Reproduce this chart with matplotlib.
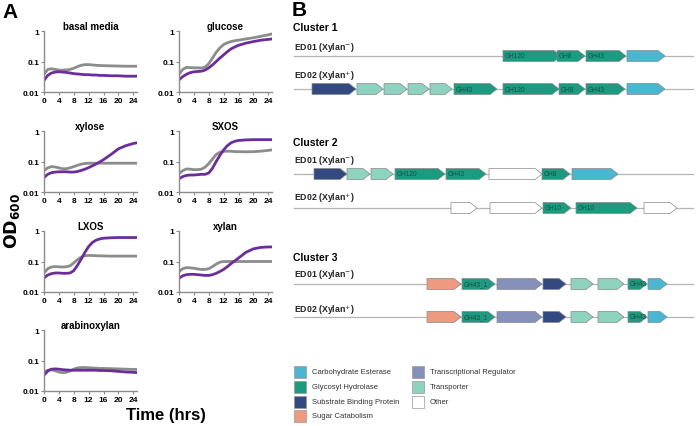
import matplotlib.pyplot as plt
from matplotlib.patches import Polygon, Rectangle

plt.rcParams['font.family'] = ['Liberation Sans', 'DejaVu Sans']

# ---- panel A: growth curves (OD600, log scale) ----
hours = [0, 1, 2, 3, 4, 5, 6, 7, 8, 9, 10, 11, 12, 13, 14, 15, 16, 18, 20, 22, 24, 25]

media = ['basal media', 'glucose', 'xylose', 'SXOS', 'LXOS', 'xylan', 'arabinoxylan']

ed01_od = {
    'basal media': [0.038, 0.055, 0.058, 0.055, 0.052, 0.052, 0.053, 0.055, 0.060, 0.068, 0.075, 0.079,
                    0.079, 0.077, 0.075, 0.074, 0.073, 0.072, 0.071, 0.070, 0.070, 0.070],
    'glucose': [0.038, 0.055, 0.064, 0.063, 0.062, 0.062, 0.061, 0.065, 0.085, 0.13, 0.2, 0.28,
                0.36, 0.41, 0.45, 0.48, 0.5, 0.55, 0.6, 0.67, 0.75, 0.8],
    'xylose': [0.05, 0.062, 0.068, 0.066, 0.062, 0.058, 0.058, 0.062, 0.068, 0.075, 0.082, 0.086,
               0.088, 0.088, 0.088, 0.088, 0.088, 0.088, 0.088, 0.088, 0.088, 0.088],
    'SXOS': [0.04, 0.05, 0.057, 0.056, 0.054, 0.054, 0.056, 0.065, 0.085, 0.12, 0.17, 0.2,
             0.215, 0.218, 0.216, 0.212, 0.21, 0.208, 0.21, 0.218, 0.232, 0.24],
    'LXOS': [0.042, 0.058, 0.066, 0.068, 0.067, 0.066, 0.067, 0.072, 0.09, 0.115, 0.14, 0.155,
             0.158, 0.157, 0.155, 0.153, 0.152, 0.15, 0.15, 0.15, 0.15, 0.15],
    'xylan': [0.046, 0.058, 0.063, 0.062, 0.06, 0.057, 0.055, 0.055, 0.058, 0.068, 0.082, 0.095,
              0.1, 0.1, 0.1, 0.1, 0.1, 0.1, 0.1, 0.1, 0.1, 0.1],
    'arabinoxylan': [0.042, 0.048, 0.05, 0.046, 0.042, 0.04, 0.041, 0.045, 0.052, 0.057, 0.059, 0.059,
                     0.058, 0.057, 0.056, 0.055, 0.055, 0.054, 0.053, 0.052, 0.051, 0.051],
}
ed02_od = {
    'basal media': [0.024, 0.035, 0.042, 0.045, 0.046, 0.045, 0.044, 0.042, 0.040, 0.039, 0.038, 0.037,
                    0.037, 0.036, 0.036, 0.035, 0.035, 0.034, 0.034, 0.033, 0.033, 0.033],
    'glucose': [0.025, 0.032, 0.038, 0.043, 0.046, 0.047, 0.048, 0.052, 0.062, 0.077, 0.1, 0.13,
                0.165, 0.21, 0.26, 0.3, 0.34, 0.4, 0.45, 0.5, 0.53, 0.55],
    'xylose': [0.03, 0.038, 0.043, 0.045, 0.046, 0.046, 0.046, 0.045, 0.045, 0.047, 0.051, 0.056,
               0.063, 0.072, 0.083, 0.097, 0.115, 0.17, 0.26, 0.33, 0.39, 0.41],
    'SXOS': [0.027, 0.032, 0.035, 0.036, 0.036, 0.037, 0.038, 0.038, 0.042, 0.06, 0.1, 0.16,
             0.24, 0.33, 0.41, 0.46, 0.49, 0.51, 0.52, 0.52, 0.52, 0.52],
    'LXOS': [0.029, 0.036, 0.040, 0.042, 0.042, 0.041, 0.041, 0.042, 0.05, 0.075, 0.12, 0.2,
             0.31, 0.42, 0.5, 0.55, 0.58, 0.6, 0.61, 0.61, 0.61, 0.61],
    'xylan': [0.028, 0.034, 0.037, 0.038, 0.038, 0.037, 0.036, 0.035, 0.035, 0.037, 0.041, 0.047,
              0.055, 0.068, 0.085, 0.105, 0.13, 0.2, 0.26, 0.29, 0.3, 0.3],
    'arabinoxylan': [0.033, 0.045, 0.052, 0.053, 0.052, 0.05, 0.049, 0.048, 0.048, 0.048, 0.048, 0.048,
                     0.048, 0.048, 0.048, 0.047, 0.047, 0.046, 0.044, 0.042, 0.041, 0.04],
}

# ---- panel B: gene clusters (start, end, category, label), positions in figure pixels ----
cluster_names = ['Cluster 1', 'Cluster 2', 'Cluster 3']
strain_labels = ['ED01 (Xylan$^{-}$)', 'ED02 (Xylan$^{+}$)']

c1_ed01 = [(503, 561, 'GH', 'GH120'), (557, 585, 'GH', 'GH8'), (586, 626, 'GH', 'GH43'),
           (627, 665, 'CE', '')]
c1_ed02 = [(312, 356, 'SBP', ''), (357, 383, 'TP', ''), (384, 407, 'TP', ''), (408, 429, 'TP', ''),
           (430, 452, 'TP', ''), (454, 497, 'GH', 'GH43'), (503, 559, 'GH', 'GH120'),
           (559, 585, 'GH', 'GH8'), (586, 625, 'GH', 'GH43'), (627, 665, 'CE', '')]
c2_ed01 = [(314, 347, 'SBP', ''), (347, 370, 'TP', ''), (371, 393, 'TP', ''), (395, 445, 'GH', 'GH120'),
           (446, 486, 'GH', 'GH43'), (489, 542, 'OT', ''), (542, 570, 'GH', 'GH8'), (572, 618, 'CE', '')]
c2_ed02 = [(451, 477, 'OT', ''), (490, 542, 'OT', ''), (543, 571, 'GH', 'GH10'), (576, 637, 'GH', 'GH10'),
           (644, 677, 'OT', '')]
c3_genes = [(427, 461, 'SC', ''), (462, 495, 'GH', 'GH43_1'), (497, 542, 'TR', ''), (543, 566, 'SBP', ''),
            (571, 593, 'TP', ''), (598, 624, 'TP', ''), (628, 647, 'GH', 'GH43'), (648, 667, 'CE', '')]

tracks = [c1_ed01, c1_ed02, c2_ed01, c2_ed02, c3_genes, c3_genes]

cat_colors = {'CE': '#4ab6cf', 'GH': '#1d9a80', 'SBP': '#334a80', 'SC': '#ee9a80',
              'TR': '#8590ba', 'TP': '#8ed2c0', 'OT': '#ffffff'}
legend_items = [('CE', 'Carbohydrate Esterase'), ('GH', 'Glycosyl Hydrolase'),
                ('SBP', 'Substrate Binding Protein'), ('SC', 'Sugar Catabolism'),
                ('TR', 'Transcriptional Regulator'), ('TP', 'Transporter'), ('OT', 'Other')]

fig = plt.figure(figsize=(6.96, 4.27), dpi=100)

# overlay in pixel coordinates for panel B and free text
ov = fig.add_axes([0, 0, 1, 1])
ov.set_xlim(0, 696)
ov.set_ylim(427, 0)
ov.axis('off')

gray = '#8c8c8c'
purple = '#6c2d9c'
W, H = 696, 427
ax_left = [44, 179]
ax_top = [32, 132, 232, 331]
for i, m in enumerate(media):
    r, c = divmod(i, 2)
    ax = fig.add_axes([ax_left[c] / W, 1 - (ax_top[r] + 61) / H, 93 / W, 61 / H])
    ax.plot(hours, ed01_od[m], color=gray, lw=2)
    ax.plot(hours, ed02_od[m], color=purple, lw=2)
    ax.set_yscale('log')
    ax.set_ylim(0.01, 1)
    ax.set_xlim(0, 25)
    ax.set_xticks(range(0, 25, 4))
    ax.set_yticks([0.01, 0.1, 1])
    ax.set_yticklabels(['0.01', '0.1', '1'])
    ax.minorticks_off()
    ax.patch.set_alpha(0)
    for s in ['top', 'right']:
        ax.spines[s].set_visible(False)
    for s in ['left', 'bottom']:
        ax.spines[s].set_color(gray)
        ax.spines[s].set_linewidth(1)
    ax.tick_params(length=2.5, width=0.8, color=gray, pad=1, labelsize=6)
    for lab in ax.get_xticklabels() + ax.get_yticklabels():
        lab.set_fontweight('bold')
    ax.set_title(m, fontsize=7, fontweight='bold', pad=1.5)

ov.text(2, 13, 'A', fontsize=15, fontweight='bold', va='center', ha='left')
ov.text(166, 416, 'Time (hrs)', fontsize=12, fontweight='bold', ha='center', va='center')
ov.text(12, 221, r'$\mathbf{OD}_{\mathbf{600}}$', fontsize=12.5, rotation=90, ha='center', va='center')

# panel B
ov.text(292, 11, 'B', fontsize=15, fontweight='bold', va='center', ha='left')
title_y = [28, 143, 258]
label_y = [47, 76, 161, 198, 275, 310]
track_y = [57, 90, 175, 209, 285, 318]
for k, name in enumerate(cluster_names):
    ov.text(293, title_y[k], name, fontsize=7.5, fontweight='bold', va='center')
gh = 11
for j, genes in enumerate(tracks):
    y = track_y[j]
    ov.text(294, label_y[j], strain_labels[j % 2], fontsize=6.3, fontweight='bold', va='center',
            color='#222222')
    ov.plot([294, 693], [y, y], color='#b4b4b4', lw=0.9, zorder=1)
    for s, e, cat, lab in genes:
        head = min(7, 0.4 * (e - s))
        pts = [(s, y - gh / 2), (e - head, y - gh / 2), (e, y), (e - head, y + gh / 2), (s, y + gh / 2)]
        ov.add_patch(Polygon(pts, closed=True, facecolor=cat_colors[cat], edgecolor='#888888',
                             lw=0.5, zorder=2))
        if lab:
            ov.text(s + 2, y, lab, fontsize=4.7, color='#1b4f45', va='center', ha='left', zorder=3)

leg_x = [294, 412]
leg_y = [373, 388, 403, 417]
for n, (cat, txt) in enumerate(legend_items):
    col = 0 if n < 4 else 1
    row = n if n < 4 else n - 4
    ov.add_patch(Rectangle((leg_x[col], leg_y[row] - 6), 12, 12, facecolor=cat_colors[cat],
                           edgecolor='#999999', lw=0.5))
    ov.text(leg_x[col] + 18, leg_y[row], txt, fontsize=5.5, color='#333333', va='center')

fig.savefig('out.png', dpi=100)
